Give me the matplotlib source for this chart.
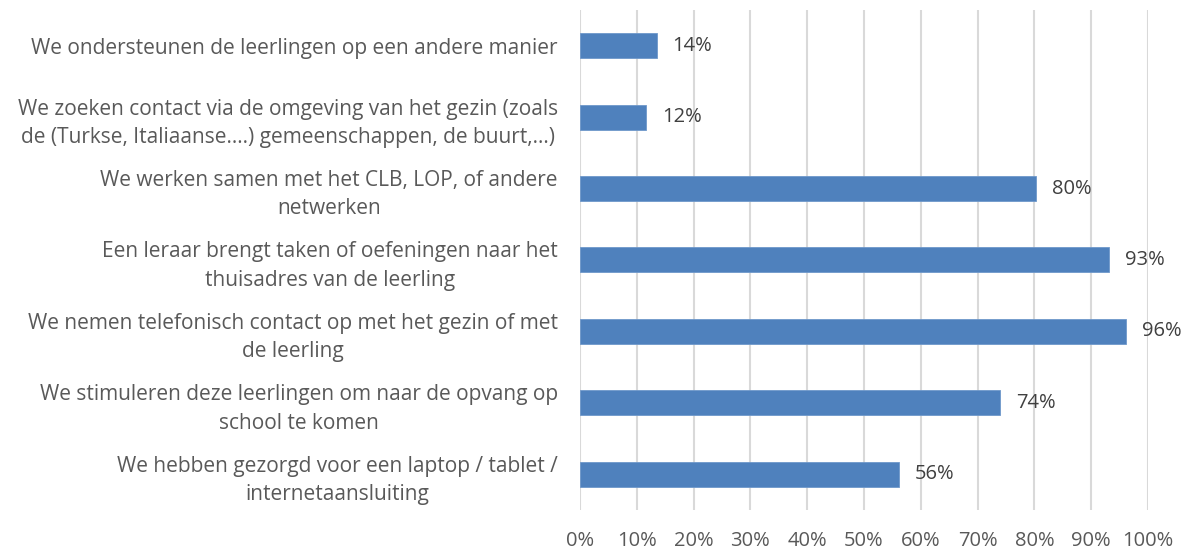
import matplotlib.pyplot as plt
from matplotlib.ticker import FuncFormatter

# Categories from top to bottom (as shown)
labels = [
    "We ondersteunen de leerlingen op een andere manier",
    "We zoeken contact via de omgeving van het gezin (zoals\nde (Turkse, Italiaanse….) gemeenschappen, de buurt,…)",
    "We werken samen met het CLB, LOP, of andere\nnetwerken",
    "Een leraar brengt taken of oefeningen naar het\nthuisadres van de leerling",
    "We nemen telefonisch contact op met het gezin of met\nde leerling",
    "We stimuleren deze leerlingen om naar de opvang op\nschool te komen",
    "We hebben gezorgd voor een laptop / tablet /\ninternetaansluiting",
]
values = [0.135, 0.116, 0.803, 0.931, 0.962, 0.740, 0.561]
pct_labels = ["14%", "12%", "80%", "93%", "96%", "74%", "56%"]

text_color = "#595959"
bar_color = "#4F81BD"
grid_color = "#D9D9D9"

plt.rcParams["font.family"] = ["Open Sans", "DejaVu Sans"]

fig = plt.figure(figsize=(11.89, 5.51), dpi=100)
ax = fig.add_axes([580 / 1189, 1 - 510 / 551, 568 / 1189, 500 / 551])

ypos = list(range(len(labels)))[::-1]
ax.barh(ypos, values, height=0.35, color=bar_color, edgecolor="#6F98CB", linewidth=0.6, zorder=3)

for y, v, t in zip(ypos, values, pct_labels):
    ax.annotate(t, (v, y), xytext=(11.5, 0), textcoords="offset points",
                va="center", ha="left", fontsize=14.5, color="#404040")

ax.set_xlim(0, 1)
ax.set_ylim(-0.5, len(labels) - 0.5)
ax.set_xticks([i / 10 for i in range(11)])
ax.xaxis.set_major_formatter(FuncFormatter(lambda x, pos: f"{x * 100:.0f}%"))
ax.set_yticks(ypos)
ax.set_yticklabels(labels, multialignment="center", linespacing=1.45)

ax.tick_params(axis="x", length=0, pad=15, labelsize=14.5, colors=text_color)
ax.tick_params(axis="y", length=0, pad=16, labelsize=15, colors=text_color)
ax.grid(axis="x", color=grid_color, linewidth=1.5, zorder=0)
ax.set_axisbelow(True)
for s in ax.spines.values():
    s.set_visible(False)

fig.savefig("out.png", dpi=100)
